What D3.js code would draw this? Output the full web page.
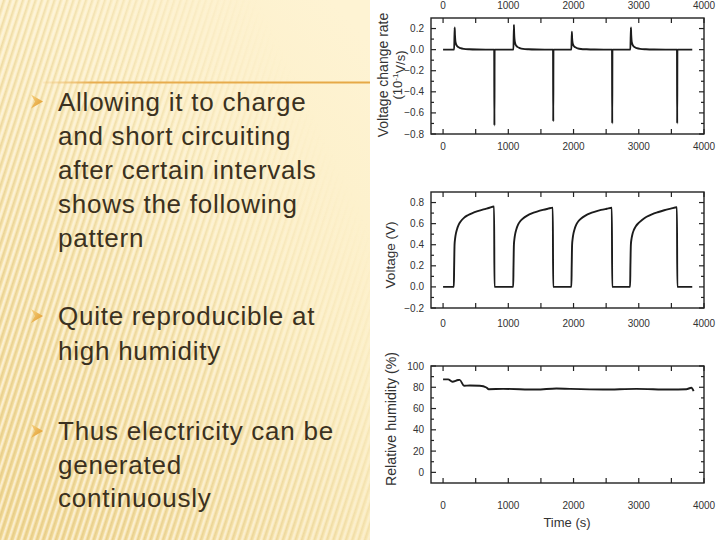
<!DOCTYPE html>
<html><head><meta charset="utf-8">
<script src="https://cdn.jsdelivr.net/npm/d3@7/dist/d3.min.js"></script>
<style>html,body{margin:0;padding:0;background:#fff;}svg{display:block;}</style>
</head><body>
<svg id="c" width="720" height="540"></svg>
<script>
// ---------- data ----------
const xTicks = [0, 1000, 2000, 3000, 4000];
const rateTicks = [-0.8, -0.6, -0.4, -0.2, 0.0, 0.2];
const voltTicks = [-0.2, 0.0, 0.2, 0.4, 0.6, 0.8];
const rhTicks = [0, 20, 40, 60, 80, 100];

// voltage change rate (10^-1 V/s)
const rateTime = [0,170,178,182,187,195,208,232,268,318,400,520,784,787,790,
  1079,1086,1090,1095,1103,1116,1140,1176,1226,1310,1430,1686,1689,1692,
  1967,1974,1978,1983,1991,2004,2028,2064,2114,2200,2320,2590,2593,2596,
  2871,2880,2884,2889,2897,2910,2934,2970,3020,3110,3230,3586,3589,3592,3820];
const rateValue = [0,0,0.21,0.14,0.09,0.06,0.04,0.025,0.014,0.007,0.003,0.001,0,-0.72,0,
  0,0.235,0.15,0.1,0.065,0.042,0.026,0.015,0.007,0.003,0.001,0,-0.68,0,
  0,0.17,0.11,0.075,0.05,0.035,0.022,0.012,0.006,0.003,0.001,0,-0.70,0,
  0,0.21,0.14,0.09,0.06,0.04,0.025,0.014,0.007,0.003,0.001,0,-0.70,0,0];

// voltage (V)
const voltTime = [0,165,170,176,185,198,215,240,275,320,380,450,530,620,700,782,788,
  1075,1080,1086,1095,1108,1125,1150,1185,1230,1290,1360,1440,1530,1610,1682,1688,
  1967,1972,1978,1987,2000,2017,2042,2077,2122,2182,2252,2332,2422,2510,2587,2593,
  2867,2872,2879,2890,2905,2925,2955,2995,3050,3120,3200,3290,3390,3490,3585,3591,3820];
const voltValue = [0,0,0.2,0.4,0.46,0.51,0.55,0.59,0.625,0.655,0.68,0.70,0.718,0.735,0.748,0.762,0,
  0,0.2,0.4,0.46,0.51,0.55,0.59,0.625,0.652,0.676,0.697,0.714,0.73,0.742,0.752,0,
  0,0.2,0.4,0.46,0.51,0.55,0.59,0.625,0.652,0.676,0.697,0.714,0.73,0.741,0.75,0,
  0,0.2,0.4,0.46,0.505,0.54,0.575,0.605,0.635,0.665,0.688,0.708,0.727,0.742,0.755,0,0];

// relative humidity (%)
const rhTime = [0,77,143,230,255,322,409,562,664,700,920,1430,1737,1941,2452,2963,3474,3730,3806,3841];
const rhValue = [87.4,87.4,85.2,86.8,87,81.4,81.7,81.4,79.8,78.2,78.5,77.9,78.9,78.5,77.9,78.5,77.9,78.2,79.5,76.3];

const bullets = [
  ["Allowing it to charge","and short circuiting","after certain intervals","shows the following","pattern"],
  ["Quite reproducible at","high humidity"],
  ["Thus electricity can be","generated","continuously"]
];
const bulletBaselines = [[110.5,144.5,178.5,212.5,246.5],[325,359.5],[440,473.5,507]];

// ---------- drawing ----------
const svg = d3.select("#c");
const defs = svg.append("defs");
const FONT = "'Liberation Sans', Arial, Helvetica, sans-serif";

// background of slide (left part)
const bg = defs.append("linearGradient").attr("id","bg").attr("x1",0.9).attr("y1",0).attr("x2",0.1).attr("y2",1);
bg.append("stop").attr("offset",0).attr("stop-color","#fef3d3");
bg.append("stop").attr("offset",0.4).attr("stop-color","#fcefc6");
bg.append("stop").attr("offset",1).attr("stop-color","#f2da98");
const pat = defs.append("pattern").attr("id","stripes").attr("patternUnits","userSpaceOnUse")
  .attr("width",6).attr("height",20).attr("patternTransform","rotate(18)");
pat.append("rect").attr("x",0).attr("y",0).attr("width",2.2).attr("height",20).attr("fill","#fffaf0").attr("opacity",0.6);
pat.append("rect").attr("x",3).attr("y",0).attr("width",1.6).attr("height",20).attr("fill","#d6b96e").attr("opacity",0.4);
const mg = defs.append("linearGradient").attr("id","mg").attr("x1",0).attr("y1",0.5).attr("x2",0.7).attr("y2",0.0);
mg.append("stop").attr("offset",0).attr("stop-color","#fff");
mg.append("stop").attr("offset",0.5).attr("stop-color","#fff").attr("stop-opacity",0.7);
mg.append("stop").attr("offset",1).attr("stop-color","#fff").attr("stop-opacity",0);
defs.append("mask").attr("id","m").append("rect").attr("x",0).attr("y",0).attr("width",370).attr("height",540).attr("fill","url(#mg)");

svg.append("rect").attr("x",0).attr("y",0).attr("width",370).attr("height",540).attr("fill","url(#bg)");
svg.append("rect").attr("x",0).attr("y",0).attr("width",370).attr("height",540).attr("fill","url(#stripes)").attr("mask","url(#m)");
svg.append("rect").attr("x",370).attr("y",0).attr("width",350).attr("height",540).attr("fill","#ffffff");

// orange rule
const lg = defs.append("linearGradient").attr("id","lg");
lg.append("stop").attr("offset",0).attr("stop-color","#f0c070").attr("stop-opacity",0.2);
lg.append("stop").attr("offset",0.15).attr("stop-color","#e8ad50");
lg.append("stop").attr("offset",1).attr("stop-color","#e6a946");
svg.append("rect").attr("x",43).attr("y",81.5).attr("width",327).attr("height",2).attr("fill","url(#lg)");

// bullets & text
const ag = defs.append("linearGradient").attr("id","ag").attr("x1",0).attr("y1",0).attr("x2",1).attr("y2",1);
ag.append("stop").attr("offset",0).attr("stop-color","#f8d584");
ag.append("stop").attr("offset",1).attr("stop-color","#de9526");
bullets.forEach((lines,i)=>{
  const b = bulletBaselines[i];
  const cy = b[0]-9;
  svg.append("path").attr("d",`M31,${cy-7} L43,${cy} L31,${cy+7} L35,${cy} Z`).attr("fill","url(#ag)");
  lines.forEach((t,j)=>{
    svg.append("text").attr("x",58).attr("y",b[j]).text(t)
      .attr("font-family",FONT).attr("font-size",26).attr("letter-spacing","0.75px").attr("fill","#3b3120");
  });
});

// panels
const x = d3.scaleLinear().domain([-185,4000]).range([431,704]);
function panel(y, yTicks, yMinor, fmt, times, values, topLabels, xLabelY) {
  const g = svg.append("g");
  const [y0,y1] = y.range();
  const x0 = x.range()[0], x1 = x.range()[1];
  const line = d3.line().x((d)=>x(d[0])).y((d)=>y(d[1])).curve(d3.curveMonotoneX);
  const pts = times.map((t,i)=>[t,values[i]]);
  g.append("path").attr("d",line(pts)).attr("fill","none").attr("stroke","#1c1c1c").attr("stroke-width",1.9).attr("stroke-linejoin","round");
  g.append("rect").attr("x",x0).attr("y",y1).attr("width",x1-x0).attr("height",y0-y1)
    .attr("fill","none").attr("stroke","#222").attr("stroke-width",1.4);
  const xt = d3.range(0,4001,500);
  xt.forEach(v=>{
    g.append("line").attr("x1",x(v)).attr("x2",x(v)).attr("y1",y0).attr("y2",y0-5).attr("stroke","#222").attr("stroke-width",1.2);
    g.append("line").attr("x1",x(v)).attr("x2",x(v)).attr("y1",y1).attr("y2",y1+5).attr("stroke","#222").attr("stroke-width",1.2);
  });
  yTicks.forEach(v=>{
    g.append("line").attr("x1",x0).attr("x2",x0+5).attr("y1",y(v)).attr("y2",y(v)).attr("stroke","#222").attr("stroke-width",1.2);
    g.append("line").attr("x1",x1).attr("x2",x1-5).attr("y1",y(v)).attr("y2",y(v)).attr("stroke","#222").attr("stroke-width",1.2);
  });
  yMinor.forEach(v=>{
    g.append("line").attr("x1",x0).attr("x2",x0+3).attr("y1",y(v)).attr("y2",y(v)).attr("stroke","#222").attr("stroke-width",1.2);
    g.append("line").attr("x1",x1).attr("x2",x1-3).attr("y1",y(v)).attr("y2",y(v)).attr("stroke","#222").attr("stroke-width",1.2);
  });
  yTicks.forEach(v=>{
    g.append("text").attr("x",424).attr("y",y(v)).attr("dy","0.35em").attr("text-anchor","end")
      .attr("font-family",FONT).attr("font-size",10).attr("fill","#333").text(fmt(v));
  });
  xTicks.forEach(v=>{
    g.append("text").attr("x",x(v)).attr("y",xLabelY).attr("text-anchor","middle")
      .attr("font-family",FONT).attr("font-size",10).attr("fill","#333").text(v);
    if (topLabels) g.append("text").attr("x",x(v)).attr("y",9).attr("text-anchor","middle")
      .attr("font-family",FONT).attr("font-size",10).attr("fill","#333").text(v);
  });
  return g;
}
const f1 = d3.format(".1f");
const yRate = d3.scaleLinear().domain([-0.8,0.3]).range([134,18]);
panel(yRate, rateTicks, [-0.7,-0.5,-0.3,-0.1,0.1], f1, rateTime, rateValue, true, 150);
const yVolt = d3.scaleLinear().domain([-0.2,0.9]).range([308,192]);
panel(yVolt, voltTicks, [-0.1,0.1,0.3,0.5,0.7], f1, voltTime, voltValue, false, 327);
const yRh = d3.scaleLinear().domain([-10,100]).range([483,366]);
panel(yRh, rhTicks, [10,30,50,70,90], d3.format("d"), rhTime, rhValue, false, 508.5);

// axis titles
function vtitle(cx, cy, size) {
  return svg.append("text").attr("transform",`translate(${cx},${cy}) rotate(-90)`).attr("text-anchor","middle")
    .attr("dy","0.35em").attr("font-family",FONT).attr("font-size",size).attr("fill","#333");
}
vtitle(383, 75, 14).text("Voltage change rate");
const t2 = vtitle(397.5, 75, 13);
t2.append("tspan").text("(10");
t2.append("tspan").attr("font-size",8).attr("dy","-0.5em").text("-1");
t2.append("tspan").attr("dy","0.5em").attr("font-size",13).text("V/s)");
vtitle(390, 255, 13.5).text("Voltage (V)");
vtitle(391, 419, 14.2).text("Relative humidity (%)");
svg.append("text").attr("x",567).attr("y",527).attr("text-anchor","middle")
  .attr("font-family",FONT).attr("font-size",13).attr("fill","#333").text("Time (s)");
</script>
</body></html>
